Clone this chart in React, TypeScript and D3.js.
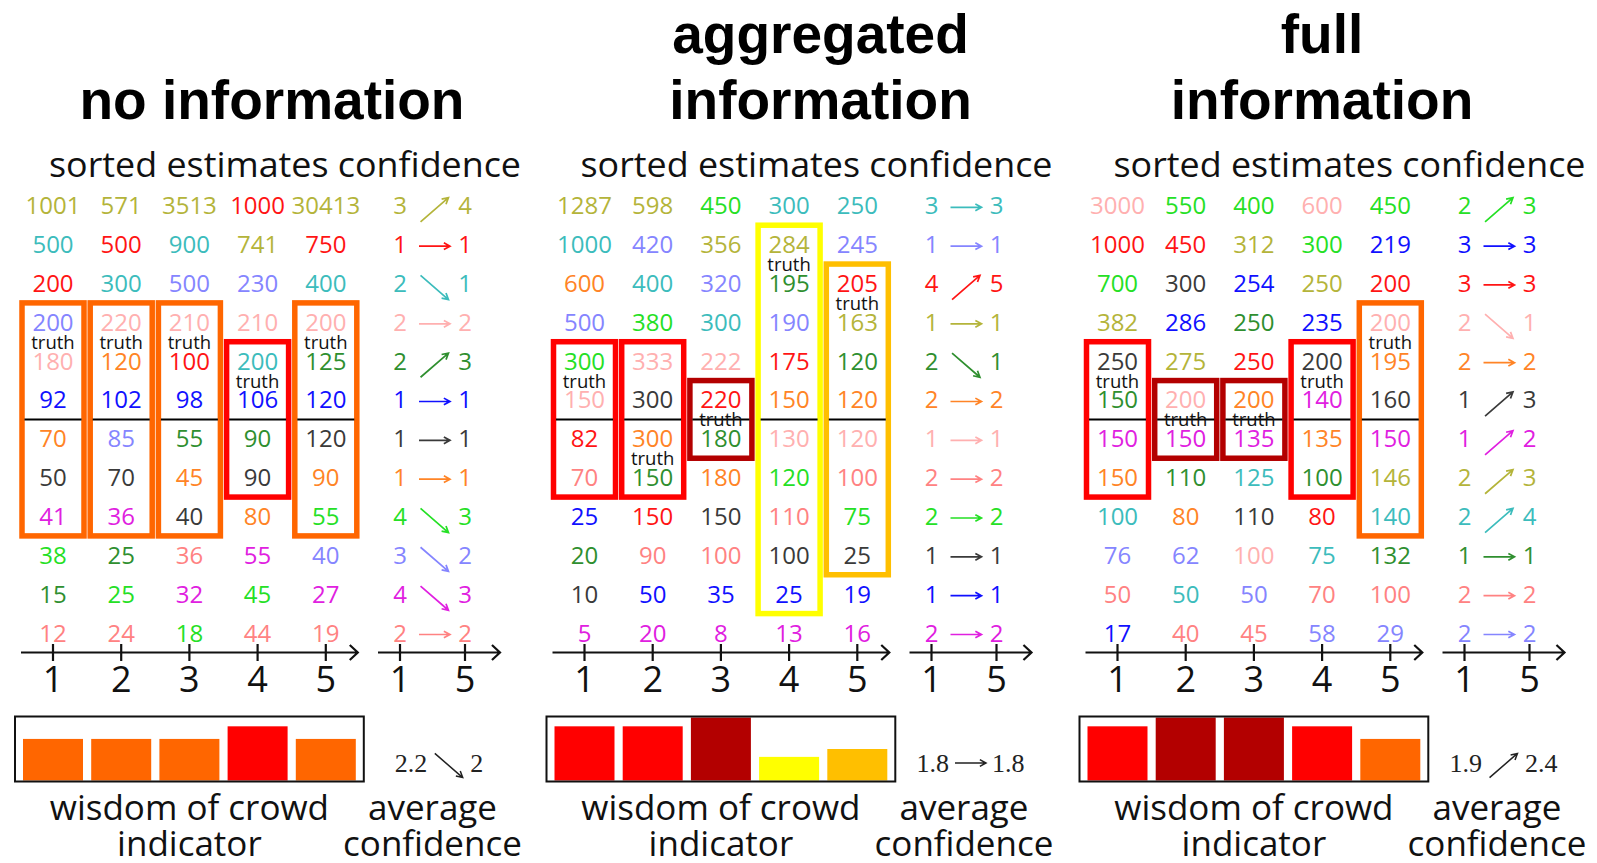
import React from "react";
import * as d3 from "d3";

// ---------- data ----------
// persons (colour identity): 0 olive, 1 red, 2 cyan, 3 light pink, 4 dark green, 5 blue,
// 6 black, 7 orange, 8 green, 9 periwinkle, 10 magenta, 11 salmon
const personColors = [
  "#b4b43a", "#ff1414", "#3cbcbc", "#ffb0b0", "#2f8f2f", "#1010ff",
  "#3a3a3a", "#ff8426", "#25e025", "#8585ff", "#e020e0", "#ff8282",
];

const rounds = [1, 2, 3, 4, 5];
const confRounds = [1, 5];
const rowIds = d3.range(1, 13);

const titles = [["no information"], ["aggregated", "information"], ["full", "information"]];
const headerText = "sorted estimates confidence";
const bottomLeft = ["wisdom of crowd", "indicator"];
const bottomRight = ["average", "confidence"];

// sorted estimates: rows (high -> low) x rounds
const noInfoEstimates = [
  [1001, 571, 3513, 1000, 30413],
  [500, 500, 900, 741, 750],
  [200, 300, 500, 230, 400],
  [200, 220, 210, 210, 200],
  [180, 120, 100, 200, 125],
  [92, 102, 98, 106, 120],
  [70, 85, 55, 90, 120],
  [50, 70, 45, 90, 90],
  [41, 36, 40, 80, 55],
  [38, 25, 36, 55, 40],
  [15, 25, 32, 45, 27],
  [12, 24, 18, 44, 19],
];
const noInfoPersons = [
  [0, 0, 0, 1, 0],
  [2, 1, 2, 0, 1],
  [1, 2, 9, 9, 2],
  [9, 3, 3, 3, 3],
  [3, 7, 1, 2, 4],
  [5, 5, 5, 5, 5],
  [7, 9, 4, 4, 6],
  [6, 6, 7, 6, 7],
  [10, 10, 6, 7, 8],
  [8, 4, 11, 10, 9],
  [4, 8, 10, 8, 10],
  [11, 11, 8, 11, 11],
];
const noInfoTruthAfter = [4, 4, 4, 5, 4];
const noInfoBoxes = [[4, 9], [4, 9], [4, 9], [5, 8], [4, 9]];
const noInfoWisdom = [0.66, 0.66, 0.66, 0.86, 0.66];
const noInfoConfidence = [
  [3, 4, 0], [1, 1, 1], [2, 1, 2], [2, 2, 3], [2, 3, 4], [1, 1, 5],
  [1, 1, 6], [1, 1, 7], [4, 3, 8], [3, 2, 9], [4, 3, 10], [2, 2, 11],
];

const aggEstimates = [
  [1287, 598, 450, 300, 250],
  [1000, 420, 356, 284, 245],
  [600, 400, 320, 195, 205],
  [500, 380, 300, 190, 163],
  [300, 333, 222, 175, 120],
  [150, 300, 220, 150, 120],
  [82, 300, 180, 130, 120],
  [70, 150, 180, 120, 100],
  [25, 150, 150, 110, 75],
  [20, 90, 100, 100, 25],
  [10, 50, 35, 25, 19],
  [5, 20, 8, 13, 16],
];
const aggPersons = [
  [0, 0, 8, 2, 2],
  [2, 9, 0, 0, 9],
  [7, 2, 9, 4, 1],
  [9, 8, 2, 9, 0],
  [8, 3, 3, 1, 4],
  [3, 6, 1, 7, 7],
  [1, 7, 4, 3, 3],
  [11, 4, 7, 8, 11],
  [5, 1, 6, 11, 8],
  [4, 11, 11, 6, 6],
  [6, 5, 5, 5, 5],
  [10, 10, 10, 10, 10],
];
const aggTruthAfter = [5, 7, 6, 2, 3];
const aggBoxes = [[5, 8], [5, 8], [6, 7], [2, 11], [3, 10]];
const aggWisdom = [0.86, 0.86, 1.0, 0.375, 0.5];
const aggConfidence = [
  [3, 3, 2], [1, 1, 9], [4, 5, 1], [1, 1, 0], [2, 1, 4], [2, 2, 7],
  [1, 1, 3], [2, 2, 11], [2, 2, 8], [1, 1, 6], [1, 1, 5], [2, 2, 10],
];

const fullEstimates = [
  [3000, 550, 400, 600, 450],
  [1000, 450, 312, 300, 219],
  [700, 300, 254, 250, 200],
  [382, 286, 250, 235, 200],
  [250, 275, 250, 200, 195],
  [150, 200, 200, 140, 160],
  [150, 150, 135, 135, 150],
  [150, 110, 125, 100, 146],
  [100, 80, 110, 80, 140],
  [76, 62, 100, 75, 132],
  [50, 50, 50, 70, 100],
  [17, 40, 45, 58, 29],
];
const fullPersons = [
  [3, 8, 8, 3, 8],
  [1, 1, 0, 8, 5],
  [8, 6, 5, 0, 1],
  [0, 5, 4, 5, 3],
  [6, 0, 1, 6, 7],
  [4, 3, 7, 10, 6],
  [10, 10, 10, 7, 10],
  [7, 4, 2, 4, 0],
  [2, 7, 6, 1, 2],
  [9, 9, 3, 2, 4],
  [11, 2, 9, 11, 11],
  [5, 11, 11, 9, 9],
];
const fullTruthAfter = [5, 6, 6, 5, 4];
const fullBoxes = [[5, 8], [6, 7], [6, 7], [5, 8], [4, 9]];
const fullWisdom = [0.86, 1.0, 1.0, 0.86, 0.66];
const fullConfidence = [
  [2, 3, 8], [3, 3, 5], [3, 3, 1], [2, 1, 3], [2, 2, 7], [1, 3, 6],
  [1, 2, 10], [2, 3, 0], [2, 4, 2], [1, 1, 4], [2, 2, 11], [2, 2, 9],
];

const boxSpans = [2, 4, 6, 8, 10];
const boxColors = ["#b30000", "#ff0000", "#ff6600", "#ffbf00", "#ffff00"];

const panels = [
  { title: titles[0], est: noInfoEstimates, who: noInfoPersons, truth: noInfoTruthAfter, boxes: noInfoBoxes, wisdom: noInfoWisdom, conf: noInfoConfidence },
  { title: titles[1], est: aggEstimates, who: aggPersons, truth: aggTruthAfter, boxes: aggBoxes, wisdom: aggWisdom, conf: aggConfidence },
  { title: titles[2], est: fullEstimates, who: fullPersons, truth: fullTruthAfter, boxes: fullBoxes, wisdom: fullWisdom, conf: fullConfidence },
];

// ---------- layout ----------
const W = 1597;
const H = 863;
const panelLeft = [53, 584.5, 1117.5];
const titleCenter = [272, 820.5, 1322];
const colStep = 68.2;
const SANS = "'Open Sans', 'DejaVu Sans', sans-serif";
const SERIF = "'Liberation Serif', 'DejaVu Serif', serif";

const rowScale = d3.scaleLinear().domain([1, 12]).range([205.8, 633]);
const rowStep = rowScale(2) - rowScale(1);
const boxColor = d3.scaleOrdinal<number, string>().domain(boxSpans).range(boxColors);
const wisdomScale = d3.scaleLinear().domain([0, 1]).range([780.5, 717.5]);
const fmt = d3.format(".2~r");

function arrowPath(x1: number, y1: number, x2: number, y2: number, head = 7, ang = 0.5) {
  const a = Math.atan2(y2 - y1, x2 - x1);
  const hx1 = x2 - head * Math.cos(a - ang);
  const hy1 = y2 - head * Math.sin(a - ang);
  const hx2 = x2 - head * Math.cos(a + ang);
  const hy2 = y2 - head * Math.sin(a + ang);
  return `M${x1},${y1}L${x2},${y2}M${hx1},${hy1}L${x2},${y2}L${hx2},${hy2}`;
}

function trendArrow(cx: number, cy: number, dir: number, len: number) {
  if (dir === 0) return arrowPath(cx - len / 2, cy, cx + len / 2, cy);
  const w = len * 0.9;
  const h = len * 0.78;
  if (dir > 0) return arrowPath(cx - w / 2, cy + 2.5 + h / 2, cx + w / 2, cy + 2.5 - h / 2);
  return arrowPath(cx - w / 2, cy + 2.5 - h / 2, cx + w / 2, cy + 2.5 + h / 2);
}

function serifWidth(s: string, fs: number) {
  let w = 0;
  for (const ch of s) w += ch === "." ? 0.25 * fs : 0.5 * fs;
  return w;
}

function Panel({ p, i }: { p: typeof panels[number]; i: number }) {
  const c1 = panelLeft[i];
  const x = d3.scaleLinear().domain([1, 5]).range([c1, c1 + 4 * colStep]);
  const cx = d3.scaleLinear().domain([1, 5]).range([c1 + 347, c1 + 412]);
  const confMid = (cx(1) + cx(5)) / 2;
  const axisY = 652.5;
  const boxW = 62;

  const avgBefore = d3.mean(p.conf, (d) => d[0]) as number;
  const avgAfter = d3.mean(p.conf, (d) => d[1]) as number;
  const sb = fmt(avgBefore);
  const sa = fmt(avgAfter);
  const avgDir = Math.sign(+sa - +sb);
  const fsAvg = 26;
  const arrLen = 31;
  const gap = 6;
  const totalW = serifWidth(sb, fsAvg) + gap + arrLen + gap + serifWidth(sa, fsAvg);
  const gStart = confMid + 6.5 - totalW / 2;
  const arrCx = gStart + serifWidth(sb, fsAvg) + gap + arrLen / 2;
  const avgBase = 772;

  const frameL = x(1) - 38;
  const frameR = x(5) + 38;

  return (
    <g>
      {/* titles */}
      {p.title.map((t, k) => (
        <text
          key={t}
          x={titleCenter[i]}
          y={p.title.length === 1 ? 119 : k === 0 ? 53 : 119}
          textAnchor="middle"
          fontFamily="'Liberation Sans', Arial, sans-serif"
          fontWeight="bold"
          fontSize={55}
          fill="#000"
        >
          {t}
        </text>
      ))}
      {/* header */}
      <text
        x={x(1) - 4}
        y={176.5}
        fontFamily={SANS}
        fontSize={35}
        fill="#111"
        textLength={472}
        lengthAdjust="spacingAndGlyphs"
      >
        {headerText}
      </text>

      {/* boxes */}
      {p.boxes.map((b, c) => (
        <rect
          key={"box" + c}
          x={x(rounds[c]) - boxW / 2}
          y={rowScale(b[0]) - rowStep / 2}
          width={boxW}
          height={rowScale(b[1]) - rowScale(b[0]) + rowStep}
          fill="none"
          stroke={boxColor(b[1] - b[0] + 1)}
          strokeWidth={5.5}
        />
      ))}

      {/* median lines */}
      {rounds.map((r) => (
        <line
          key={"med" + r}
          x1={x(r) - 28.5}
          x2={x(r) + 28.5}
          y1={(rowScale(6) + rowScale(7)) / 2}
          y2={(rowScale(6) + rowScale(7)) / 2}
          stroke="#000"
          strokeWidth={2}
        />
      ))}

      {/* estimates */}
      {p.est.map((row, r) =>
        row.map((v, c) => (
          <text
            key={`e${r}-${c}`}
            x={x(rounds[c])}
            y={rowScale(rowIds[r]) + 8.5}
            textAnchor="middle"
            fontFamily={SANS}
            fontSize={24}
            fill={personColors[p.who[r][c]]}
          >
            {v}
          </text>
        ))
      )}

      {/* truth labels */}
      {p.truth.map((t, c) => (
        <text
          key={"truth" + c}
          x={x(rounds[c])}
          y={rowScale(t) + rowStep / 2 + 7}
          textAnchor="middle"
          fontFamily={SANS}
          fontSize={18.5}
          fill="#111"
        >
          truth
        </text>
      ))}

      {/* confidence rows */}
      {p.conf.map((d, r) => {
        const yc = rowScale(rowIds[r]);
        const col = personColors[d[2]];
        return (
          <g key={"c" + r} fill={col}>
            <text x={cx(confRounds[0])} y={yc + 8.5} textAnchor="middle" fontFamily={SANS} fontSize={24}>
              {d[0]}
            </text>
            <text x={cx(confRounds[1])} y={yc + 8.5} textAnchor="middle" fontFamily={SANS} fontSize={24}>
              {d[1]}
            </text>
            <path
              d={trendArrow(confMid + 2, yc + 1.5, Math.sign(d[1] - d[0]), 31)}
              fill="none"
              stroke={col}
              strokeWidth={1.7}
            />
          </g>
        );
      })}

      {/* axes */}
      <path d={arrowPath(x(1) - 32, axisY, x(5) + 32, axisY, 11, 0.75)} fill="none" stroke="#111" strokeWidth={2.2} />
      {rounds.map((r) => (
        <g key={"t" + r}>
          <line x1={x(r)} x2={x(r)} y1={axisY - 8.5} y2={axisY + 8.5} stroke="#111" strokeWidth={2.2} />
          <text x={x(r)} y={692} textAnchor="middle" fontFamily={SANS} fontSize={36} fill="#111">
            {r}
          </text>
        </g>
      ))}
      <path d={arrowPath(cx(1) - 22, axisY, cx(5) + 35, axisY, 11, 0.75)} fill="none" stroke="#111" strokeWidth={2.2} />
      {confRounds.map((r) => (
        <g key={"ct" + r}>
          <line x1={cx(r)} x2={cx(r)} y1={axisY - 8.5} y2={axisY + 8.5} stroke="#111" strokeWidth={2.2} />
          <text x={cx(r)} y={692} textAnchor="middle" fontFamily={SANS} fontSize={36} fill="#111">
            {r}
          </text>
        </g>
      ))}

      {/* wisdom of crowd indicator */}
      {p.wisdom.map((w, c) => (
        <rect
          key={"bar" + c}
          x={x(rounds[c]) - 30}
          y={wisdomScale(w)}
          width={60}
          height={wisdomScale(0) - wisdomScale(w)}
          fill={boxColor(p.boxes[c][1] - p.boxes[c][0] + 1)}
        />
      ))}
      <rect x={frameL} y={716.5} width={frameR - frameL} height={65} fill="none" stroke="#111" strokeWidth={2} />

      {/* average confidence */}
      <text x={gStart} y={avgBase} fontFamily={SERIF} fontSize={fsAvg} fill="#222">
        {sb}
      </text>
      <path d={trendArrow(arrCx, avgBase - 9, avgDir, arrLen)} fill="none" stroke="#222" strokeWidth={1.5} />
      <text x={gStart + totalW} y={avgBase} textAnchor="end" fontFamily={SERIF} fontSize={fsAvg} fill="#222">
        {sa}
      </text>

      {/* bottom labels */}
      {bottomLeft.map((t, k) => (
        <text key={t} x={x(3)} y={k === 0 ? 820 : 856} textAnchor="middle" fontFamily={SANS} fontSize={35} fill="#111">
          {t}
        </text>
      ))}
      {bottomRight.map((t, k) => (
        <text key={t} x={confMid} y={k === 0 ? 820 : 856} textAnchor="middle" fontFamily={SANS} fontSize={35} fill="#111">
          {t}
        </text>
      ))}
    </g>
  );
}

export default function App() {
  return (
    <svg
      width={W}
      height={H}
      viewBox={`0 0 ${W} ${H}`}
      style={{ position: "absolute", left: 0, top: 0, background: "#fff" }}
    >
      <rect x={0} y={0} width={W} height={H} fill="#fff" />
      {panels.map((p, i) => (
        <Panel key={i} p={p} i={i} />
      ))}
    </svg>
  );
}
